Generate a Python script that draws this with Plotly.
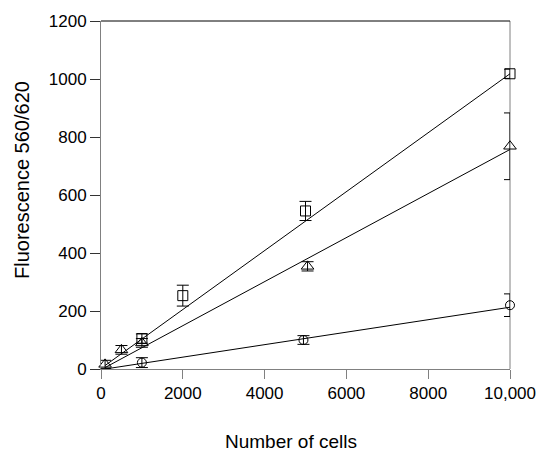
import plotly.graph_objects as go

# Square series
sq_x = [1000, 2000, 5000, 10000]
sq_y = [105, 253, 545, 1018]
sq_err = [16, 36, 33, 16]
sq_fit_x = [100, 10000]
sq_fit_y = [12, 1018]

# Triangle series
tri_x = [100, 500, 1000, 5050, 10000]
tri_y = [16, 66, 90, 354, 768]
tri_err = [14, 15, 15, 16, 115]
tri_fit_x = [100, 10000]
tri_fit_y = [5, 757]

# Circle series
cir_x = [1000, 4950, 10000]
cir_y = [22, 100, 220]
cir_err = [17, 15, 39]
cir_fit_x = [100, 10000]
cir_fit_y = [0, 213]

x_tickvals = [0, 2000, 4000, 6000, 8000, 10000]
x_ticktext = ["0", "2000", "4000", "6000", "8000", "10,000"]
y_tickvals = [0, 200, 400, 600, 800, 1000, 1200]

FONT = "Liberation Sans, Arial, Helvetica, sans-serif"

fig = go.Figure()

for fx, fy in [(sq_fit_x, sq_fit_y), (tri_fit_x, tri_fit_y), (cir_fit_x, cir_fit_y)]:
    fig.add_trace(go.Scatter(x=fx, y=fy, mode="lines",
                             line=dict(color="black", width=1),
                             cliponaxis=False, showlegend=False, hoverinfo="skip"))

def pts(x, y, err, symbol, size):
    return go.Scatter(
        x=x, y=y, mode="markers",
        marker=dict(symbol=symbol, size=size, color="black",
                    line=dict(color="black", width=1)),
        error_y=dict(type="data", array=err, visible=True,
                     color="black", thickness=1, width=6),
        cliponaxis=False, showlegend=False)

fig.add_trace(pts(sq_x, sq_y, sq_err, "square-open", 10))
fig.add_trace(pts(tri_x, tri_y, tri_err, "triangle-up-open", 11))
fig.add_trace(pts(cir_x, cir_y, cir_err, "circle-open", 9))

fig.update_layout(
    width=537, height=452,
    margin=dict(l=101, r=27, t=21, b=83),
    plot_bgcolor="white", paper_bgcolor="white",
    font=dict(family=FONT, color="black", size=17),
    showlegend=False,
    xaxis=dict(range=[0, 10000], tickvals=x_tickvals, ticktext=x_ticktext,
               automargin=False,
               showline=True, linecolor="#808080", linewidth=1,
               ticks="outside", ticklen=9, tickcolor="#808080", tickwidth=1,
               showgrid=False, zeroline=False,
               tickfont=dict(family=FONT, size=17, color="black")),
    yaxis=dict(range=[0, 1200], tickvals=y_tickvals,
               automargin=False,
               showline=True, linecolor="#808080", linewidth=1,
               ticks="outside", ticklen=10, tickcolor="#333333", tickwidth=1,
               showgrid=False, zeroline=False,
               tickfont=dict(family=FONT, size=17, color="black")),
    shapes=[
        dict(type="line", xref="paper", yref="paper", x0=0, x1=1, y0=1, y1=1,
             line=dict(color="black", width=1)),
        dict(type="line", xref="paper", yref="paper", x0=1, x1=1, y0=0, y1=1,
             line=dict(color="#808080", width=1), layer="below"),
    ],
    annotations=[
        dict(text="Number of cells", xref="paper", yref="paper",
             x=(291 - 101) / 409, y=(369 - 441) / 348,
             xanchor="center", yanchor="middle", showarrow=False,
             font=dict(family=FONT, size=19, color="black")),
        dict(text="Fluorescence 560/620", xref="paper", yref="paper",
             x=(22 - 101) / 409, y=(369 - 180) / 348, textangle=-90,
             xanchor="center", yanchor="middle", showarrow=False,
             font=dict(family=FONT, size=20, color="black")),
    ],
)

fig.write_html("out.html", config={"displayModeBar": False},
               post_script="document.body.style.margin='0';document.body.style.overflow='hidden';")
